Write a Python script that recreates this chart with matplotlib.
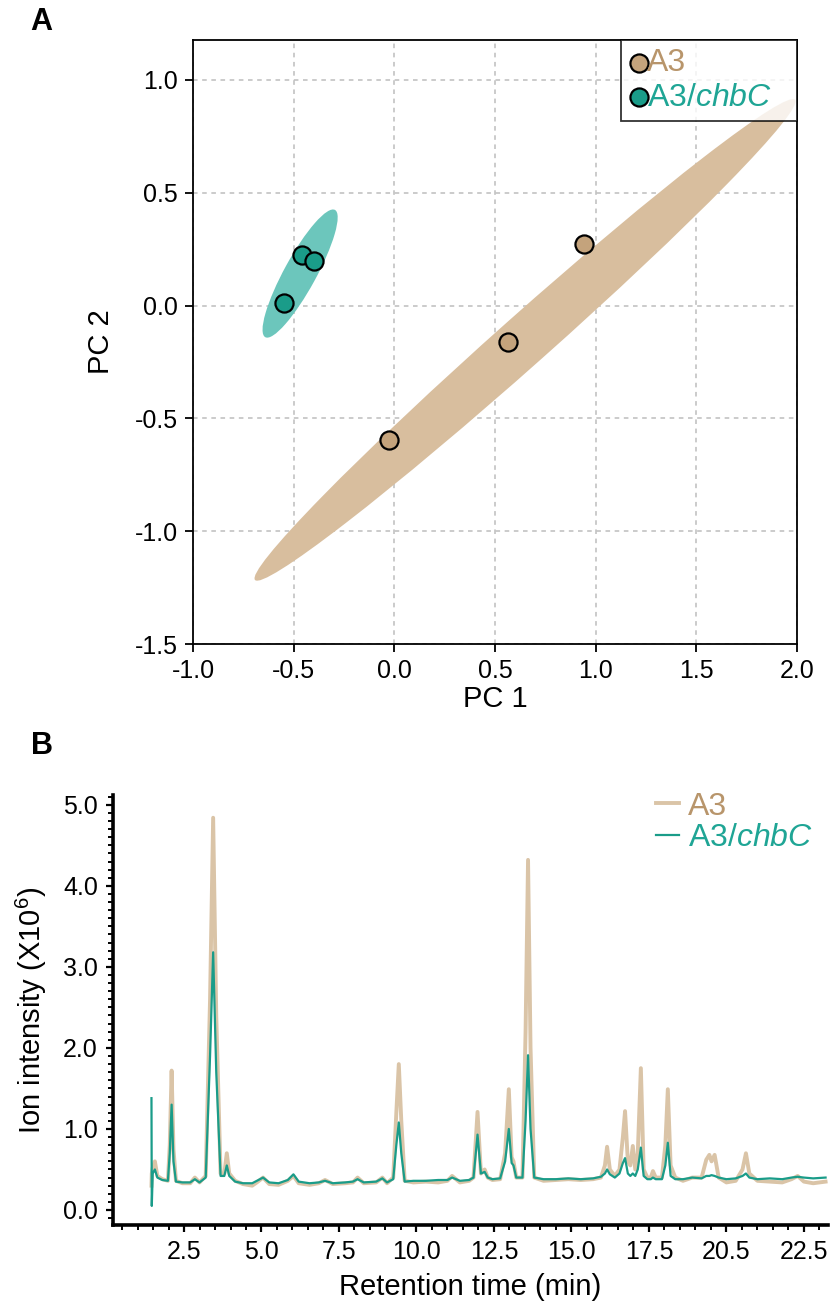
import matplotlib.pyplot as plt
from matplotlib.patches import Ellipse
from matplotlib.transforms import Affine2D
from matplotlib.ticker import MultipleLocator

plt.rcParams['font.family'] = ['Liberation Sans', 'DejaVu Sans']
plt.rcParams['mathtext.fontset'] = 'custom'
plt.rcParams['mathtext.rm'] = 'Liberation Sans'
plt.rcParams['mathtext.it'] = 'Liberation Sans:italic'
plt.rcParams['axes.unicode_minus'] = False

# ---- panel A: PCA scores
a3_pc1 = [0.94, 0.565, -0.026]
a3_pc2 = [0.273, -0.161, -0.596]
chbc_pc1 = [-0.548, -0.458, -0.399]
chbc_pc2 = [0.011, 0.224, 0.198]

# ---- panel B: chromatogram (retention time, ion intensity x10^6)
rt = [1.45, 1.46, 1.49, 1.56, 1.64, 1.80, 1.98, 2.04, 2.10, 2.16, 2.24, 2.45,
      2.70, 2.85, 3.00, 3.20, 3.34, 3.44, 3.54, 3.68, 3.80, 3.88, 3.96, 4.15, 4.40,
      4.70, 4.85, 5.05, 5.25, 5.55, 5.85, 6.03, 6.20, 6.55, 6.85, 7.05, 7.30, 7.70,
      7.95, 8.10, 8.30, 8.70, 8.90, 9.05,
      9.25, 9.35, 9.43, 9.51, 9.62,
      9.90, 10.30, 10.70, 11.00, 11.15, 11.40, 11.70,
      11.84, 11.97, 12.08, 12.20, 12.30, 12.45, 12.70, 12.86, 12.98, 13.07, 13.13,
      13.22, 13.42, 13.52, 13.60, 13.68, 13.80,
      14.10, 14.50, 14.90, 15.30, 15.70, 15.95,
      16.08, 16.15, 16.24, 16.40, 16.55, 16.66, 16.73, 16.82, 16.90, 16.98, 17.06,
      17.14, 17.24, 17.33, 17.45, 17.56, 17.63, 17.72, 17.92, 18.03, 18.11, 18.20, 18.35,
      18.60, 18.90, 19.20, 19.35, 19.45, 19.52, 19.62, 19.75, 20.00, 20.30, 20.52,
      20.63, 20.74, 21.00, 21.40, 21.80, 22.10, 22.30, 22.50, 22.80, 23.20]
a3_int = [0.30, 0.45, 0.52, 0.60, 0.42, 0.38, 0.36, 0.80, 1.72, 0.75, 0.36, 0.33,
          0.33, 0.40, 0.34, 0.42, 2.60, 4.84, 2.40, 0.45, 0.45, 0.70, 0.45, 0.36, 0.32,
          0.30, 0.34, 0.40, 0.32, 0.31, 0.36, 0.42, 0.33, 0.31, 0.33, 0.37, 0.32, 0.33,
          0.34, 0.40, 0.33, 0.34, 0.40, 0.33,
          0.40, 1.20, 1.80, 1.10, 0.36,
          0.34, 0.35, 0.34, 0.36, 0.42, 0.34, 0.36,
          0.40, 1.21, 0.45, 0.50, 0.40, 0.37, 0.38, 0.70, 1.49, 0.65, 0.60,
          0.40, 0.40, 2.20, 4.32, 2.00, 0.40,
          0.36, 0.37, 0.38, 0.37, 0.38, 0.40,
          0.55, 0.78, 0.50, 0.42, 0.50, 0.90, 1.22, 0.60, 0.55, 0.79, 0.50,
          0.70, 1.75, 0.50, 0.40, 0.40, 0.48, 0.40, 0.40, 0.80, 1.49, 0.55, 0.40,
          0.36, 0.40, 0.40, 0.62, 0.68, 0.60, 0.68, 0.40, 0.34, 0.36, 0.50,
          0.70, 0.45, 0.36, 0.35, 0.34, 0.38, 0.42, 0.35, 0.33, 0.35]
chbc_int = [1.38, 0.05, 0.45, 0.50, 0.40, 0.37, 0.36, 0.70, 1.30, 0.60, 0.35, 0.34,
            0.34, 0.38, 0.34, 0.40, 1.90, 3.18, 1.70, 0.42, 0.42, 0.55, 0.42, 0.35, 0.33,
            0.33, 0.36, 0.40, 0.34, 0.33, 0.37, 0.44, 0.35, 0.33, 0.34, 0.36, 0.33, 0.34,
            0.35, 0.38, 0.34, 0.35, 0.39, 0.34,
            0.38, 0.80, 1.08, 0.70, 0.35,
            0.36, 0.36, 0.37, 0.37, 0.40, 0.36, 0.37,
            0.40, 0.93, 0.45, 0.47, 0.40, 0.38, 0.39, 0.60, 1.00, 0.58, 0.55,
            0.40, 0.40, 1.10, 1.91, 1.00, 0.40,
            0.38, 0.38, 0.39, 0.38, 0.39, 0.41,
            0.45, 0.50, 0.44, 0.40, 0.45, 0.58, 0.64, 0.45, 0.42, 0.45, 0.42,
            0.50, 0.77, 0.42, 0.38, 0.38, 0.40, 0.38, 0.38, 0.55, 0.83, 0.42, 0.38,
            0.38, 0.40, 0.39, 0.42, 0.42, 0.43, 0.42, 0.40, 0.38, 0.39, 0.42,
            0.45, 0.40, 0.38, 0.39, 0.38, 0.40, 0.41, 0.40, 0.39, 0.40]
rt_ticks = [2.5, 5.0, 7.5, 10.0, 12.5, 15.0, 17.5, 20.0, 22.5]
rt_labels = ['2.5', '5.0', '7.5', '10.0', '12.5', '15.0', '17.5', '20.5', '22.5']

tan = '#c4a37c'
tan_fill = '#d8be9e'
tan_line = '#dac4a7'
tan_text = '#b8956b'
teal = '#1a9c89'
teal_fill = '#6cc6bc'
teal_text = '#1fa595'

fig = plt.figure(figsize=(8.33, 13.04), dpi=100)

# ---------------- panel A
ax = fig.add_axes([0.2317, 0.5061, 0.7251, 0.4632])
ax.set_xlim(-1.0, 2.0)
ax.set_ylim(-1.5, 1.177)
ax.set_xticks([-1.0, -0.5, 0.0, 0.5, 1.0, 1.5, 2.0])
ax.set_yticks([-1.5, -1.0, -0.5, 0.0, 0.5, 1.0])
ax.xaxis.set_major_formatter(lambda v, p: f'{v:.1f}')
ax.yaxis.set_major_formatter(lambda v, p: f'{v:.1f}')
ax.grid(True, color='#bdbdbd', linestyle=(0, (3, 3)), linewidth=1.1)
ax.set_axisbelow(True)
for s in ax.spines.values():
    s.set_linewidth(1.3)
ax.tick_params(direction='out', length=6, width=1.3, labelsize=18, pad=5)

# confidence ellipses (center, half-major vector, half-minor vector)
for (cx, cy), (mx, my), (nx, ny), fc in [
        ((0.649, -0.152), (1.341, 1.064), (0.083, -0.083), tan_fill),
        ((-0.468, 0.142), (0.173, 0.282), (0.070, -0.034), teal_fill)]:
    tr = Affine2D.from_values(mx, my, nx, ny, cx, cy) + ax.transData
    ax.add_patch(Ellipse((0, 0), 2, 2, transform=tr, facecolor=fc,
                         edgecolor='none', zorder=1))

ax.scatter(a3_pc1, a3_pc2, s=170, color=tan, edgecolor='black',
           linewidth=1.6, zorder=3, label='A3')
ax.scatter(chbc_pc1, chbc_pc2, s=170, color=teal, edgecolor='black',
           linewidth=1.6, zorder=3, label='A3/$\\it{chbC}$   ')
ax.set_xlabel('PC 1', fontsize=21, labelpad=1)
ax.set_ylabel('PC 2', fontsize=21, labelpad=14)
leg = ax.legend(loc='upper right', fontsize=23, frameon=True, fancybox=False,
                edgecolor='black', borderaxespad=0, handletextpad=-0.05,
                handlelength=0.6, borderpad=0.25, labelspacing=0.15,
                scatterpoints=1, markerscale=1.0)
leg.get_frame().set_linewidth(1.3)
leg.set_zorder(5)
for txt, c in zip(leg.get_texts(), [tan_text, teal_text]):
    txt.set_color(c)

# ---------------- panel B
bx = fig.add_axes([0.1357, 0.0606, 0.858, 0.3297])
bx.plot(rt, a3_int, color=tan_line, linewidth=2.8, label='A3',
        solid_joinstyle='round')
bx.plot(rt, chbc_int, color=teal, linewidth=1.6, label='A3/$\\it{chbC}$',
        solid_joinstyle='round')
bx.set_xlim(0.21, 23.27)
bx.set_ylim(-0.185, 5.12)
bx.set_xticks(rt_ticks)
bx.set_xticklabels(rt_labels)
bx.set_yticks([0.0, 1.0, 2.0, 3.0, 4.0, 5.0])
bx.yaxis.set_major_formatter(lambda v, p: f'{v:.1f}')
bx.xaxis.set_minor_locator(MultipleLocator(0.5))
bx.yaxis.set_minor_locator(MultipleLocator(0.1))
bx.spines['top'].set_visible(False)
bx.spines['right'].set_visible(False)
bx.spines['left'].set_linewidth(2.6)
bx.spines['bottom'].set_linewidth(2.6)
bx.tick_params(which='major', direction='out', length=5, width=1.6,
               labelsize=18, pad=6)
bx.tick_params(which='minor', direction='out', length=3.5, width=1.4)
bx.set_xlabel('Retention time (min)', fontsize=21, labelpad=6)
bx.set_ylabel('Ion intensity (X10$^6$)', fontsize=21, labelpad=10)
leg2 = bx.legend(loc='upper right', bbox_to_anchor=(1.02, 1.075), fontsize=23,
                 frameon=False, handlelength=0.7, handletextpad=0.3,
                 labelspacing=0.05)
for txt, c in zip(leg2.get_texts(), [tan_text, teal_text]):
    txt.set_color(c)

fig.text(0.05, 0.983, 'A', fontsize=22, fontweight='bold', ha='center', va='center')
fig.text(0.05, 0.428, 'B', fontsize=22, fontweight='bold', ha='center', va='center')

fig.savefig('out.png', dpi=100)
